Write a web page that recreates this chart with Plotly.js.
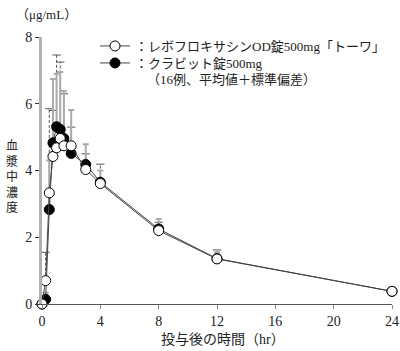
<!DOCTYPE html>
<html><head><meta charset="utf-8">
<script src="https://cdn.plot.ly/plotly-3.0.1.min.js"></script>
<style>html,body{margin:0;padding:0;background:#fff}#chart{width:400px;height:351px}</style>
</head><body><div id="chart"></div>
<script>
const hours = [0, 0.25, 0.5, 0.75, 1, 1.25, 1.5, 2, 3, 4, 8, 12, 24];
const odMean = [0, 0.70, 3.33, 4.42, 4.68, 4.96, 4.74, 4.74, 4.03, 3.61, 2.20, 1.35, 0.38];
const odSD   = [0, 0.85, 2.52, 1.38, 2.78, 2.29, 1.56, 0.56, 0.47, 0.58, 0.25, 0.27, 0.07];
const crMean = [0, 0.14, 2.83, 4.83, 5.31, 5.23, 4.96, 4.51, 4.18, 3.65, 2.25, 1.36, 0.38];
const crSD   = [0, 0.20, 1.47, 1.91, 1.59, 1.72, 1.42, 1.30, 0.61, 0.35, 0.30, 0.19, 0.07];
const odName = '：レボフロキサシンOD錠500mg「トーワ」';
const crName = '：クラビット錠500mg';
const note = '（16例、平均値＋標準偏差）';
const yTitleChars = ['血', '漿', '中', '濃', '度'];
const yTicks = [0, 2, 4, 6, 8];
const xTicks = [0, 4, 8, 12, 16, 20, 24];

const FONT = 'Liberation Serif, Noto Sans CJK JP, serif';
const W = 350, H = 267, L = 42, T = 37;
const toPaperX = v => (v - L) / W;
const toPaperY = v => (T + H - v) / H;

// dashed SD bars for OD series
const ex = [], ey = [];
hours.forEach((t, i) => { if (odSD[i] > 0) { ex.push(t, t, null); ey.push(odMean[i], odMean[i] + odSD[i], null); } });
const capX = hours.filter((t, i) => odSD[i] > 0);
const capY = hours.map((t, i) => odMean[i] + odSD[i]).filter((v, i) => odSD[i] > 0);

const traces = [
  {x: ex, y: ey, mode: 'lines', line: {color: '#555', width: 1, dash: '3px,2px'}, showlegend: false, hoverinfo: 'skip', cliponaxis: false},
  {x: capX, y: capY, mode: 'markers', marker: {symbol: 'line-ew', size: 6, line: {color: '#555', width: 1}}, showlegend: false, hoverinfo: 'skip', cliponaxis: false},
  {x: hours, y: crMean, name: crName, legend: 'legend2', mode: 'lines+markers', cliponaxis: false,
   line: {color: '#444', width: 1},
   marker: {symbol: 'circle', size: 10, color: '#000', line: {color: '#000', width: 1}},
   error_y: {type: 'data', symmetric: false, array: crSD, arrayminus: crSD.map(() => 0), color: '#aaa', thickness: 2, width: 3}},
  {x: hours, y: odMean, name: odName, legend: 'legend', mode: 'lines+markers', cliponaxis: false,
   line: {color: '#444', width: 1},
   marker: {symbol: 'circle', size: 10, color: '#fff', line: {color: '#000', width: 1}}}
];

const legFont = {family: FONT, size: 13, color: '#222'};
const annotations = [
  {xref: 'paper', yref: 'paper', x: toPaperX(14), y: toPaperY(14), xanchor: 'left', yanchor: 'middle', showarrow: false,
   text: '（μg/mL）', font: {family: FONT, size: 13, color: '#222'}},
  {xref: 'paper', yref: 'paper', x: toPaperX(145), y: toPaperY(80), xanchor: 'left', yanchor: 'middle', showarrow: false,
   text: note, font: {family: FONT, size: 13, color: '#222'}},
  {xref: 'paper', yref: 'paper', x: toPaperX(223), y: toPaperY(339), xanchor: 'center', yanchor: 'middle', showarrow: false,
   text: '投与後の時間（hr）', font: {family: FONT, size: 14, color: '#222'}},
  {xref: 'paper', yref: 'paper', x: toPaperX(12), y: toPaperY(177), xanchor: 'center', yanchor: 'middle', showarrow: false,
   text: yTitleChars.join('<br>'), font: {family: FONT, size: 12, color: '#222'}}
];

const layout = {
  width: 400, height: 351,
  margin: {l: 42, r: 8, t: 37, b: 47},
  paper_bgcolor: '#fff', plot_bgcolor: '#fff',
  font: {family: FONT, size: 13, color: '#222'},
  showlegend: true,
  legend: {x: toPaperX(95), y: toPaperY(46), xanchor: 'left', yanchor: 'middle', font: legFont, bgcolor: 'rgba(0,0,0,0)'},
  legend2: {x: toPaperX(95), y: toPaperY(63), xanchor: 'left', yanchor: 'middle', font: legFont, bgcolor: 'rgba(0,0,0,0)'},
  xaxis: {range: [0, 24], tickvals: xTicks, ticktext: xTicks.map(String), showgrid: false, zeroline: false,
          showline: true, linecolor: '#555', linewidth: 1, ticks: 'outside', ticklen: 4, tickcolor: '#888',
          tickfont: {family: FONT, size: 14, color: '#222'}},
  yaxis: {range: [0, 8], tickvals: yTicks, ticktext: yTicks.map(String), showgrid: false, zeroline: false,
          showline: true, linecolor: '#b0b0b0', linewidth: 3, ticks: 'outside', ticklen: 4, tickcolor: '#333',
          tickfont: {family: FONT, size: 14, color: '#222'}},
  annotations: annotations
};
Plotly.newPlot('chart', traces, layout, {displayModeBar: false, staticPlot: true});
</script></body></html>
